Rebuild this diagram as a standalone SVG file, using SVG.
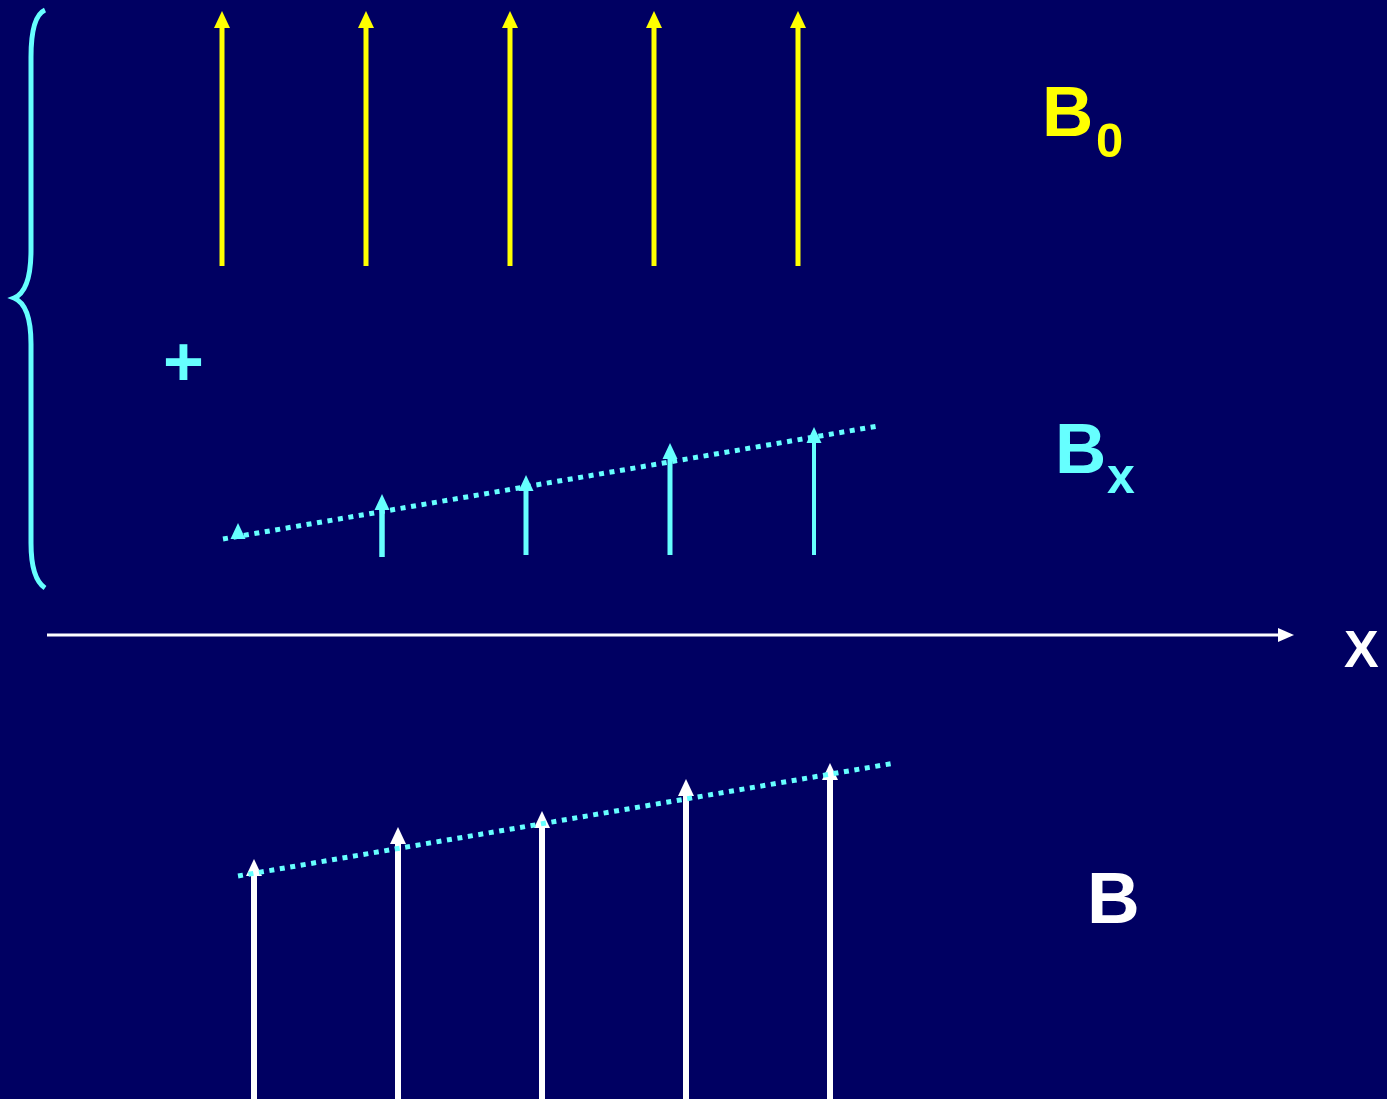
<svg xmlns="http://www.w3.org/2000/svg" xmlns:xlink="http://www.w3.org/1999/xlink" width="1387" height="1099" viewBox="0 0 1387 1099">
<style>
.lbl{font-family:"Liberation Sans",Arial,sans-serif;font-weight:bold}
.y{stroke:#FFFF00;fill:#FFFF00}
.c{stroke:#66FFFF;fill:#66FFFF}
.w{stroke:#FFFFFF;fill:#FFFFFF}
.dot{stroke:#66FFFF;stroke-width:5;stroke-dasharray:5 5.6;fill:none}
</style>
<defs>
<path id="ah" d="M0,0 L-8,17 L8,17 Z" stroke="none"/>
<path id="ahs" d="M0,0 L-7.5,16 L7.5,16 Z" stroke="none"/>
</defs>
<rect width="1387" height="1099" fill="#000062"/>
<g id="brace">
<path d="M45,10 C36,14 31,30 31,57 L31,250 C31,280 24,294 14,298 C24,302 31,316 31,344 L31,543 C31,568 36,582 45,588" fill="none" stroke="#66FFFF" stroke-width="5"/>
</g>
<g id="connectors">
<g id="b0-arrows" class="y">
<line x1="222" y1="266" x2="222" y2="24" stroke-width="5"/><use xlink:href="#ah" x="222" y="11"/>
<line x1="366" y1="266" x2="366" y2="24" stroke-width="5"/><use xlink:href="#ah" x="366" y="11"/>
<line x1="510" y1="266" x2="510" y2="24" stroke-width="5"/><use xlink:href="#ah" x="510" y="11"/>
<line x1="654" y1="266" x2="654" y2="24" stroke-width="5"/><use xlink:href="#ah" x="654" y="11"/>
<line x1="798" y1="266" x2="798" y2="24" stroke-width="5"/><use xlink:href="#ah" x="798" y="11"/>
</g>
<g id="bx-arrows" class="c">
<use xlink:href="#ahs" x="238" y="523"/>
<line x1="382" y1="557" x2="382" y2="505" stroke-width="5.5"/><use xlink:href="#ahs" x="382" y="494"/>
<line x1="526" y1="555" x2="526" y2="486" stroke-width="5"/><use xlink:href="#ahs" x="526" y="475"/>
<line x1="670" y1="555" x2="670" y2="455" stroke-width="5"/><use xlink:href="#ahs" x="670" y="443"/>
<line x1="814" y1="555" x2="814" y2="440" stroke-width="4"/><use xlink:href="#ahs" x="814" y="427"/>
</g>
<line id="bx-line" class="dot" x1="223" y1="539" x2="878" y2="426"/>
<g id="x-axis" class="w">
<line x1="47" y1="635" x2="1280" y2="635" stroke-width="3"/>
<path d="M1294,635 L1278,628 L1278,642 Z" stroke="none"/>
</g>
<g id="b-arrows" class="w">
<line x1="254" y1="1099" x2="254" y2="870" stroke-width="6"/><use xlink:href="#ah" x="254" y="859"/>
<line x1="398" y1="1099" x2="398" y2="838" stroke-width="6"/><use xlink:href="#ah" x="398" y="827"/>
<line x1="542" y1="1099" x2="542" y2="822" stroke-width="6"/><use xlink:href="#ah" x="542" y="811"/>
<line x1="686" y1="1099" x2="686" y2="790" stroke-width="6"/><use xlink:href="#ah" x="686" y="779"/>
<line x1="830" y1="1099" x2="830" y2="774" stroke-width="6"/><use xlink:href="#ah" x="830" y="763"/>
</g>
<line id="b-line" class="dot" x1="238" y1="876" x2="895" y2="763"/>
</g>
<g id="label-b0"><text class="lbl" x="1042" y="136" font-size="71" fill="#FFFF00">B</text><text class="lbl" x="1096" y="157" font-size="49" fill="#FFFF00">0</text></g>
<g id="label-plus"><text class="lbl" x="183.5" y="386" font-size="70" fill="#66FFFF" text-anchor="middle">+</text></g>
<g id="label-bx"><text class="lbl" x="1055" y="473" font-size="71" fill="#66FFFF">B</text><text class="lbl" x="1107" y="493" font-size="50" fill="#66FFFF">x</text></g>
<g id="label-x"><text class="lbl" x="1344" y="667" font-size="52" fill="#FFFFFF">X</text></g>
<g id="label-b"><text class="lbl" x="1087" y="923" font-size="73" fill="#FFFFFF">B</text></g>
</svg>
